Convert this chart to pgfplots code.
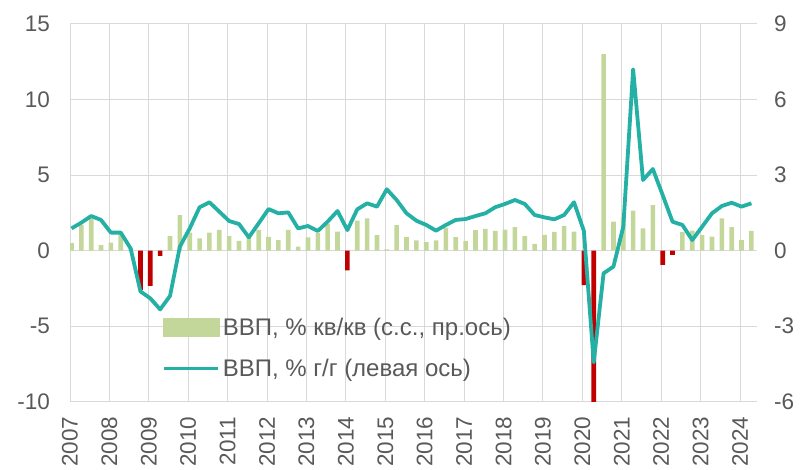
\documentclass[border=0pt]{standalone}
\usepackage{fontspec}
\setmainfont{Liberation Sans}
\usepackage{pgfplots}
\pgfplotsset{compat=1.18}
\usepackage{pgfplotstable}
\definecolor{barg}{RGB}{196,215,155}
\definecolor{barr}{RGB}{192,0,0}
\definecolor{tealc}{RGB}{36,176,165}
\definecolor{gridc}{RGB}{217,217,217}
\definecolor{txt}{RGB}{89,89,89}

% quarterly GDP, % q/q s.a. (right axis); i = 0 is 2007Q1
\pgfplotstableread{
i v
0 0.30
1 1.02
2 1.28
3 0.22
4 0.32
5 0.75
6 0.08
10 0.58
11 1.41
12 0.71
13 0.49
14 0.71
15 0.82
16 0.58
17 0.39
18 0.62
19 0.82
20 0.55
21 0.42
22 0.82
23 0.16
24 0.53
25 0.69
26 1.07
27 0.75
29 1.19
30 1.28
31 0.62
32 0.05
33 1.01
34 0.54
35 0.41
36 0.34
37 0.41
38 0.91
39 0.54
40 0.38
41 0.81
42 0.86
43 0.78
44 0.83
45 0.93
46 0.58
47 0.27
48 0.63
49 0.74
50 0.98
51 0.75
54 7.80
55 1.15
56 1.32
57 1.59
58 0.88
59 1.81
62 0.74
63 0.79
64 0.62
65 0.56
66 1.28
67 0.93
68 0.42
69 0.78
}\barspos

\pgfplotstableread{
i v
7 -1.56
8 -1.40
9 -0.21
28 -0.78
52 -1.37
53 -7.50
60 -0.57
61 -0.17
}\barsneg

% GDP, % y/y (left axis)
\pgfplotstableread{
i v
0 1.47
1 1.85
2 2.29
3 2.03
4 1.19
5 1.19
6 0.15
7 -2.70
8 -3.16
9 -3.89
10 -3.00
11 0.26
12 1.47
13 2.87
14 3.20
15 2.58
16 1.96
17 1.76
18 0.88
19 1.81
20 2.75
21 2.47
22 2.53
23 1.47
24 1.63
25 1.30
26 1.92
27 2.62
28 1.36
29 2.73
30 3.13
31 2.91
32 4.06
33 3.35
34 2.47
35 1.98
36 1.70
37 1.32
38 1.70
39 2.03
40 2.09
41 2.29
42 2.47
43 2.87
44 3.09
45 3.35
46 3.09
47 2.36
48 2.20
49 2.07
50 2.36
51 3.20
52 1.30
53 -7.40
54 -1.50
55 -1.06
56 1.58
57 12.00
58 4.67
59 5.40
60 3.67
61 1.91
62 1.70
63 0.70
64 1.58
65 2.47
66 2.95
67 3.17
68 2.91
69 3.13
}\yoy

\begin{document}
\begin{tikzpicture}
\pgfplotsset{
  common/.style={
    scale only axis, width=687pt, height=377.7pt,
    at={(0pt,0pt)}, anchor=south west,
    xmin=0, xmax=69.72,
    major tick length=0pt,
    /pgf/number format/assume math mode=true,
    tick label style={font=\fontsize{22.5}{27}\selectfont, text=txt, inner sep=0pt},
  }
}
\begin{axis}[
  common,
  ymin=-6, ymax=9,
  axis x line*=bottom, axis y line*=right,
  x axis line style={draw=gridc, line width=1pt, -},
  y axis line style={draw=none},
  xtick={0,4,...,68},
  xticklabels={2007,2008,2009,2010,2011,2012,2013,2014,2015,2016,2017,2018,2019,2020,2021,2022,2023,2024},
  xticklabel style={rotate=90, anchor=east},
  xticklabel shift=15pt,
  ytick={-6,-3,...,9},
  yticklabel style={anchor=west},
  yticklabel shift=17pt,
  grid=major, major grid style={draw=gridc, line width=1pt},
  ybar, bar width=0.47, bar shift=0pt,
]
\addplot[fill=barg, draw=none] table[x expr=\thisrow{i}+0.15, y=v] {\barspos};
\addplot[fill=barr, draw=none] table[x expr=\thisrow{i}+0.15, y=v] {\barsneg};
\end{axis}
\begin{axis}[
  common,
  ymin=-10, ymax=15,
  hide x axis,
  axis y line*=left,
  y axis line style={draw=none},
  ytick={-10,-5,...,15},
  yticklabel style={anchor=east},
  yticklabel shift=20pt,
  legend style={
    at={(axis description cs:0.1339,0.2216)}, anchor=north west,
    draw=none, fill=none, inner sep=0pt, outer sep=0pt,
    row sep=22pt, column sep=3pt,
    font=\fontsize{24}{29}\selectfont, text=txt,
    nodes={inner sep=0pt},
  },
  legend cell align=left,
]
\addlegendimage{legend image code/.code={\fill[barg] (0pt,-9pt) rectangle (56pt,9pt);}}
\addlegendentry{ВВП, \% кв/кв (с.с., пр.ось)}
\addplot[tealc, line width=3.8pt, line join=round, mark=none,
  legend image code/.code={\draw[tealc, line width=3.2pt] (0pt,0pt) -- (54pt,0pt);}]
  table[x expr=\thisrow{i}+0.15, y=v] {\yoy};
\addlegendentry{ВВП, \% г/г (левая ось)}
\end{axis}
\pgfresetboundingbox
\path[use as bounding box] (-70pt,-68.3pt) rectangle (732pt,401.7pt);
\end{tikzpicture}
\end{document}
